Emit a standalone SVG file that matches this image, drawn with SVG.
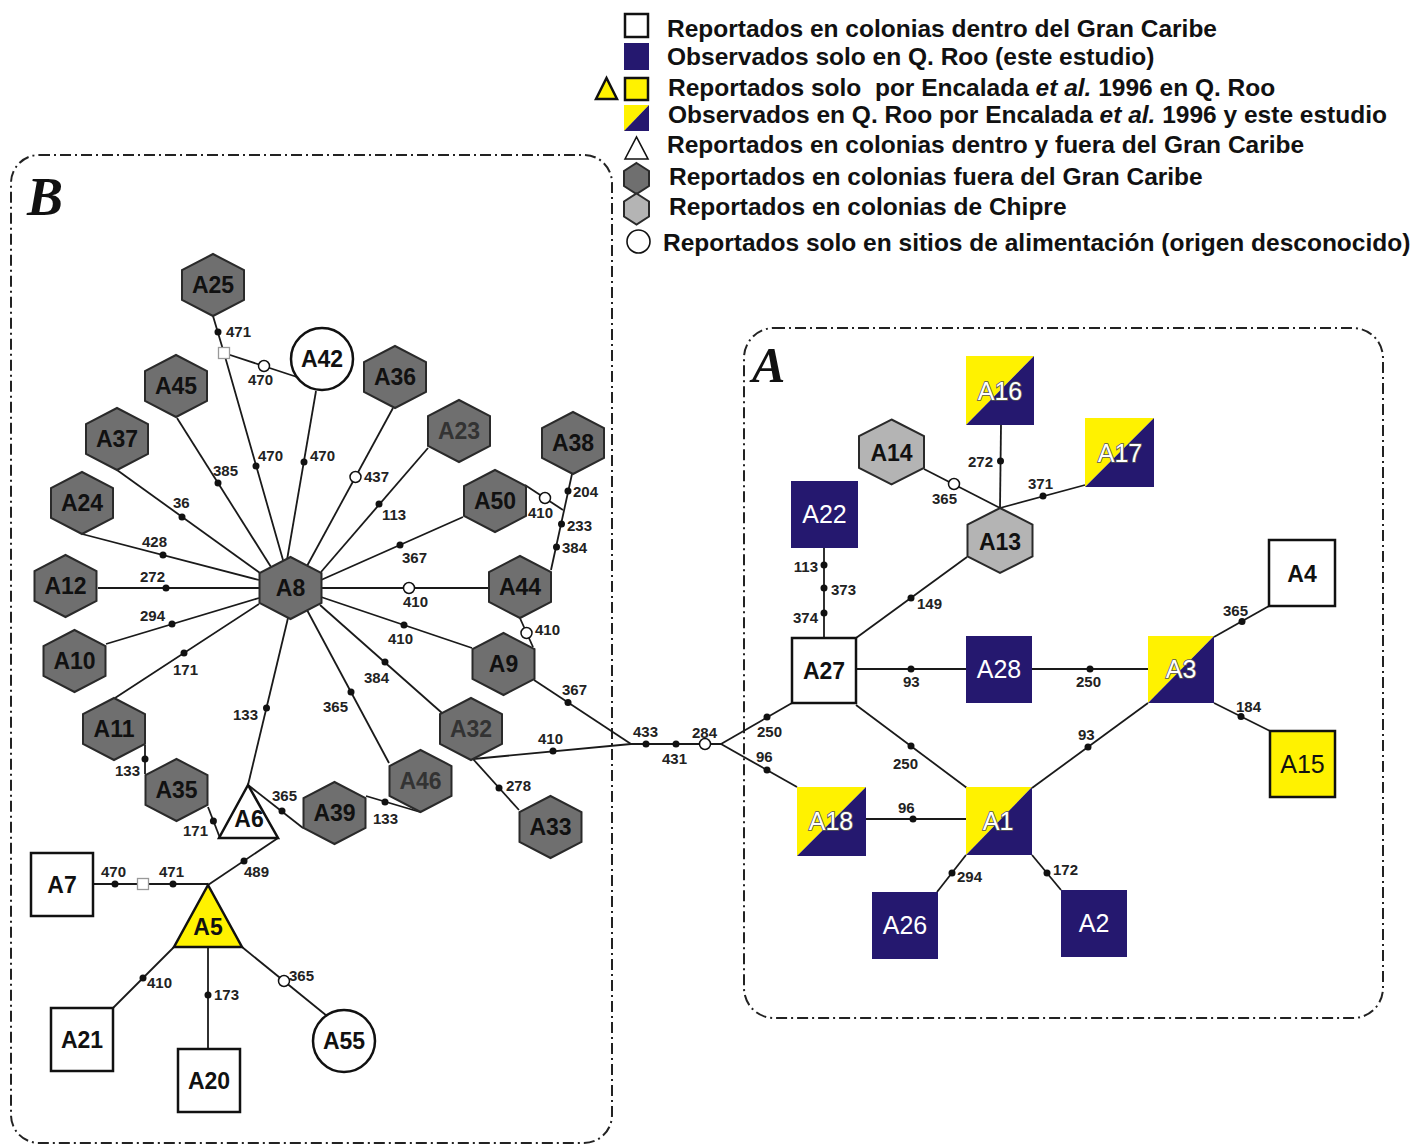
<svg xmlns="http://www.w3.org/2000/svg" xmlns:xlink="http://www.w3.org/1999/xlink" width="1414" height="1147" viewBox="0 0 1414 1147">
<style>
.ln{stroke:#1a1a1a;stroke-width:1.8;fill:none}
.dt{fill:#111}
.oc{fill:#fff;stroke:#111;stroke-width:1.5}
.ss{fill:#fff;stroke:#999;stroke-width:1.3}
.lb{font-family:"Liberation Sans",Arial,sans-serif;font-weight:bold;font-size:15px;fill:#222}
.lbe{font-family:"Liberation Sans",Arial,sans-serif;font-weight:bold;font-size:15px;fill:#222;text-anchor:end}
.nl{font-family:"Liberation Sans",Arial,sans-serif;font-weight:bold;font-size:23px;text-anchor:middle;fill:#111}
.ng{font-family:"Liberation Sans",Arial,sans-serif;font-weight:bold;font-size:23px;text-anchor:middle;fill:#333}
.nw{font-family:"Liberation Sans",Arial,sans-serif;font-size:25px;text-anchor:middle;fill:#fff}
.no{font-family:"Liberation Sans",Arial,sans-serif;font-size:25px;text-anchor:middle;fill:#fff;stroke:#555;stroke-width:1.6;paint-order:stroke}
.nk{font-family:"Liberation Sans",Arial,sans-serif;font-size:25px;text-anchor:middle;fill:#111}
.hd{fill:#6f6f6f;stroke:#2a2a2a;stroke-width:2}
.hl{fill:#b4b4b4;stroke:#2a2a2a;stroke-width:2}
.sq{fill:#fff;stroke:#111;stroke-width:2.5}
.nv{fill:#25186f}
.ye{fill:#fff200}
.yes{fill:#fff200;stroke:#111;stroke-width:2.5}
.ci{fill:#fff;stroke:#111;stroke-width:2.5}
.box{fill:none;stroke:#222;stroke-width:2;stroke-dasharray:11 4 2 4}
.lg{font-family:"Liberation Sans",Arial,sans-serif;font-weight:bold;font-size:24.5px;fill:#111}
.big{font-family:"Liberation Serif","Times New Roman",serif;font-weight:bold;font-style:italic;fill:#111}
</style>
<defs>
<polygon id="hx" points="0,-31 31,-15 31,15 0,31 -31,15 -31,-15"/>
<polygon id="hxa" points="0,-32.5 32.5,-16 32.5,16 0,32.5 -32.5,16 -32.5,-16"/>
<polygon id="hxl" points="0,-15.5 12.5,-7.5 12.5,7.5 0,15.5 -12.5,7.5 -12.5,-7.5"/>
</defs>
<rect width="1414" height="1147" fill="#fff"/>

<g id="frames">
<rect class="box" x="11" y="155" width="601" height="988" rx="28"/>
<rect class="box" x="744" y="328" width="639" height="690" rx="30"/>
<text class="big" x="27" y="215" font-size="54">B</text>
<text class="big" x="752" y="382" font-size="50">A</text>
</g>

<g id="legend">
<rect class="sq" x="625" y="14" width="23" height="23" stroke-width="2"/>
<text class="lg" x="667" y="37">Reportados en colonias dentro del Gran Caribe</text>
<rect class="nv" x="624" y="43" width="25" height="27"/>
<text class="lg" x="667" y="65">Observados solo en Q. Roo (este estudio)</text>
<polygon class="yes" points="596,99 606.5,78 617,99" stroke-width="1.5"/>
<rect class="yes" x="625" y="78" width="23" height="22" stroke-width="2"/>
<text class="lg" x="668" y="96" xml:space="preserve">Reportados solo  por Encalada <tspan font-style="italic">et al.</tspan> 1996 en Q. Roo</text>
<polygon class="ye" points="624,105 649,105 624,131"/>
<polygon class="nv" points="649,105 649,131 624,131"/>
<text class="lg" x="668" y="123">Observados en Q. Roo por Encalada <tspan font-style="italic">et al.</tspan> 1996 y este estudio</text>
<polygon fill="#fff" stroke="#111" stroke-width="1.6" points="625,159 636.5,137 648,159"/>
<text class="lg" x="667" y="153">Reportados en colonias dentro y fuera del Gran Caribe</text>
<use xlink:href="#hxl" href="#hxl" x="636.5" y="178.5" class="hd" stroke-width="1.5"/>
<text class="lg" x="669" y="185">Reportados en colonias fuera del Gran Caribe</text>
<use xlink:href="#hxl" href="#hxl" x="636.5" y="209" class="hl" stroke-width="1.5"/>
<text class="lg" x="669" y="215">Reportados en colonias de Chipre</text>
<circle cx="638.5" cy="241.5" r="11.5" fill="#fff" stroke="#111" stroke-width="1.6"/>
<text class="lg" x="663" y="251">Reportados solo en sitios de alimentación (origen desconocido)</text>
</g>

<g id="connectors">
<path class="ln" d="M213,316 L224,353 L283,560"/>
<path class="ln" d="M224,353 L297,377"/>
<path class="ln" d="M316,391 L287,560"/>
<path class="ln" d="M393,408 L307,566"/>
<path class="ln" d="M428,448 L321,572"/>
<path class="ln" d="M463,517 L321,580"/>
<path class="ln" d="M525,485 L563,510"/>
<path class="ln" d="M572,474 L551,570"/>
<path class="ln" d="M322,588 L488,588"/>
<path class="ln" d="M519,616 L533,647"/>
<path class="ln" d="M321,597 L472,648"/>
<path class="ln" d="M534,680 L631,744"/>
<path class="ln" d="M320,605 L442,713"/>
<path class="ln" d="M473,759 L631,744"/>
<path class="ln" d="M473,759 L519,810"/>
<path class="ln" d="M307,610 L389,763"/>
<path class="ln" d="M366,796 L420,812"/>
<path class="ln" d="M248,785 L303,828"/>
<path class="ln" d="M288,618 L248,785"/>
<path class="ln" d="M208,807 L220,838"/>
<path class="ln" d="M145,745 L145,774"/>
<path class="ln" d="M115,698 L259,604"/>
<path class="ln" d="M106,644 L259,598"/>
<path class="ln" d="M98,588 L259,588"/>
<path class="ln" d="M82,534 L259,580"/>
<path class="ln" d="M117,470 L260,573"/>
<path class="ln" d="M177,418 L271,567"/>
<path class="ln" d="M93,884 L208,884"/>
<path class="ln" d="M208,885 L278,838"/>
<path class="ln" d="M174,947 L113,1008"/>
<path class="ln" d="M208,947 L208,1049"/>
<path class="ln" d="M242,947 L327,1016"/>
<path class="ln" d="M631,744 L721,744"/>
<path class="ln" d="M721,744 L792,703"/>
<path class="ln" d="M721,744 L797,787"/>
<path class="ln" d="M824,548 L824,638"/>
<path class="ln" d="M856,638 L967,557"/>
<path class="ln" d="M924,469 L1000,508"/>
<path class="ln" d="M1001,425 L1000,508"/>
<path class="ln" d="M1085,485 L1000,508"/>
<path class="ln" d="M856,669 L966,669"/>
<path class="ln" d="M1032,669 L1148,669"/>
<path class="ln" d="M856,705 L967,788"/>
<path class="ln" d="M1148,703 L1032,788"/>
<path class="ln" d="M1214,637 L1269,606"/>
<path class="ln" d="M1214,703 L1270,731"/>
<path class="ln" d="M866,819 L966,819"/>
<path class="ln" d="M966,855 L937,892"/>
<path class="ln" d="M1032,855 L1061,890"/>

<g class="dt">
<circle cx="218" cy="332" r="3.5"/><circle cx="256" cy="466" r="3.5"/><circle cx="304" cy="462" r="3.5"/>
<circle cx="379" cy="504" r="3.5"/><circle cx="400" cy="545" r="3.5"/><circle cx="568" cy="491" r="3.5"/>
<circle cx="561.5" cy="524" r="3.5"/><circle cx="556.5" cy="547" r="3.5"/><circle cx="404" cy="625" r="3.5"/>
<circle cx="568" cy="702.5" r="3.5"/><circle cx="385" cy="662" r="3.5"/><circle cx="553" cy="751" r="3.5"/>
<circle cx="499" cy="788" r="3.5"/><circle cx="351" cy="692" r="3.5"/><circle cx="385" cy="802" r="3.5"/>
<circle cx="282" cy="811" r="3.5"/><circle cx="266.5" cy="708" r="3.5"/><circle cx="213.4" cy="821" r="3.5"/>
<circle cx="145" cy="759" r="3.5"/><circle cx="184" cy="653" r="3.5"/><circle cx="172" cy="624" r="3.5"/>
<circle cx="166" cy="588" r="3.5"/><circle cx="163" cy="555" r="3.5"/><circle cx="182" cy="517" r="3.5"/>
<circle cx="218" cy="483" r="3.5"/><circle cx="115" cy="884" r="3.5"/><circle cx="173" cy="884" r="3.5"/>
<circle cx="244" cy="861" r="3.5"/><circle cx="143" cy="978" r="3.5"/><circle cx="208" cy="995" r="3.5"/>
<circle cx="646" cy="744" r="3.5"/><circle cx="676" cy="744" r="3.5"/><circle cx="767" cy="717" r="3.5"/>
<circle cx="767" cy="770" r="3.5"/><circle cx="824" cy="565" r="3.5"/><circle cx="824" cy="588" r="3.5"/>
<circle cx="824" cy="613" r="3.5"/><circle cx="911" cy="598" r="3.5"/><circle cx="1000.5" cy="461" r="3.5"/>
<circle cx="1043" cy="496" r="3.5"/><circle cx="911" cy="669" r="3.5"/><circle cx="1090" cy="669" r="3.5"/>
<circle cx="911" cy="746" r="3.5"/><circle cx="1088" cy="747" r="3.5"/><circle cx="1242" cy="621.5" r="3.5"/>
<circle cx="1241" cy="716.5" r="3.5"/><circle cx="913" cy="819" r="3.5"/><circle cx="952" cy="873" r="3.5"/>
<circle cx="1047" cy="873" r="3.5"/>
</g>
<g class="oc">
<circle cx="264" cy="366" r="5.5"/><circle cx="355.5" cy="477" r="5.5"/><circle cx="545" cy="498" r="5.5"/>
<circle cx="409" cy="588" r="5.5"/><circle cx="526.5" cy="633" r="5.5"/><circle cx="705" cy="744" r="5.5"/>
<circle cx="284" cy="981" r="5.5"/><circle cx="954" cy="484" r="5.5"/>
</g>
<rect class="ss" x="218.5" y="347.5" width="11" height="11"/>
<rect class="ss" x="137.5" y="878.5" width="11" height="11"/>

<g id="edge-labels">
<text class="lb" x="226" y="337">471</text>
<text class="lb" x="248" y="385">470</text>
<text class="lb" x="258" y="461">470</text>
<text class="lb" x="310" y="461">470</text>
<text class="lb" x="364" y="482">437</text>
<text class="lb" x="382" y="520">113</text>
<text class="lb" x="213" y="476">385</text>
<text class="lb" x="173" y="508">36</text>
<text class="lb" x="142" y="547">428</text>
<text class="lb" x="140" y="582">272</text>
<text class="lb" x="140" y="621">294</text>
<text class="lb" x="173" y="675">171</text>
<text class="lb" x="402" y="563">367</text>
<text class="lb" x="528" y="518">410</text>
<text class="lb" x="573" y="497">204</text>
<text class="lb" x="567" y="531">233</text>
<text class="lb" x="562" y="553">384</text>
<text class="lb" x="403" y="607">410</text>
<text class="lb" x="535" y="635">410</text>
<text class="lb" x="388" y="644">410</text>
<text class="lb" x="562" y="695">367</text>
<text class="lb" x="364" y="683">384</text>
<text class="lb" x="323" y="712">365</text>
<text class="lb" x="233" y="720">133</text>
<text class="lb" x="538" y="744">410</text>
<text class="lb" x="506" y="791">278</text>
<text class="lb" x="373" y="824">133</text>
<text class="lb" x="272" y="801">365</text>
<text class="lb" x="183" y="836">171</text>
<text class="lb" x="115" y="776">133</text>
<text class="lb" x="101" y="877">470</text>
<text class="lb" x="159" y="877">471</text>
<text class="lb" x="244" y="877">489</text>
<text class="lb" x="147" y="988">410</text>
<text class="lb" x="214" y="1000">173</text>
<text class="lb" x="289" y="981">365</text>
<text class="lb" x="633" y="737">433</text>
<text class="lb" x="662" y="764">431</text>
<text class="lb" x="692" y="738">284</text>
<text class="lb" x="757" y="737">250</text>
<text class="lb" x="756" y="762">96</text>
<text class="lbe" x="818" y="572">113</text>
<text class="lb" x="831" y="595">373</text>
<text class="lbe" x="818" y="623">374</text>
<text class="lb" x="917" y="609">149</text>
<text class="lb" x="932" y="504">365</text>
<text class="lbe" x="993" y="467">272</text>
<text class="lb" x="1028" y="489">371</text>
<text class="lb" x="903" y="687">93</text>
<text class="lb" x="1076" y="687">250</text>
<text class="lb" x="893" y="769">250</text>
<text class="lb" x="1078" y="740">93</text>
<text class="lb" x="1223" y="616">365</text>
<text class="lb" x="1236" y="712">184</text>
<text class="lb" x="898" y="813">96</text>
<text class="lb" x="957" y="882">294</text>
<text class="lb" x="1053" y="875">172</text>
</g>
</g>

<g id="nodes">
<g id="A25"><use xlink:href="#hx" href="#hx" x="213" y="285" class="hd"/><text class="nl" x="213" y="293">A25</text></g>
<g id="A45"><use xlink:href="#hx" href="#hx" x="176" y="386" class="hd"/><text class="nl" x="176" y="394">A45</text></g>
<g id="A37"><use xlink:href="#hx" href="#hx" x="117" y="439" class="hd"/><text class="nl" x="117" y="447">A37</text></g>
<g id="A24"><use xlink:href="#hx" href="#hx" x="82" y="503" class="hd"/><text class="nl" x="82" y="511">A24</text></g>
<g id="A12"><use xlink:href="#hx" href="#hx" x="65.5" y="586" class="hd"/><text class="nl" x="65.5" y="594">A12</text></g>
<g id="A10"><use xlink:href="#hx" href="#hx" x="74.5" y="661" class="hd"/><text class="nl" x="74.5" y="669">A10</text></g>
<g id="A11"><use xlink:href="#hx" href="#hx" x="114" y="729" class="hd"/><text class="nl" x="114" y="737">A11</text></g>
<g id="A35"><use xlink:href="#hx" href="#hx" x="176.5" y="790" class="hd"/><text class="nl" x="176.5" y="798">A35</text></g>
<g id="A8"><use xlink:href="#hx" href="#hx" x="290.5" y="588" class="hd"/><text class="nl" x="290.5" y="596">A8</text></g>
<g id="A36"><use xlink:href="#hx" href="#hx" x="395" y="377" class="hd"/><text class="nl" x="395" y="385">A36</text></g>
<g id="A23"><use xlink:href="#hx" href="#hx" x="459" y="431" class="hd"/><text class="ng" x="459" y="439">A23</text></g>
<g id="A38"><use xlink:href="#hx" href="#hx" x="573" y="443" class="hd"/><text class="nl" x="573" y="451">A38</text></g>
<g id="A50"><use xlink:href="#hx" href="#hx" x="495" y="501" class="hd"/><text class="nl" x="495" y="509">A50</text></g>
<g id="A44"><use xlink:href="#hx" href="#hx" x="520" y="587" class="hd"/><text class="nl" x="520" y="595">A44</text></g>
<g id="A9"><use xlink:href="#hx" href="#hx" x="503.5" y="664" class="hd"/><text class="nl" x="503.5" y="672">A9</text></g>
<g id="A32"><use xlink:href="#hx" href="#hx" x="471" y="729" class="hd"/><text class="ng" x="471" y="737">A32</text></g>
<g id="A46"><use xlink:href="#hx" href="#hx" x="420.5" y="781" class="hd"/><text class="ng" x="420.5" y="789">A46</text></g>
<g id="A33"><use xlink:href="#hx" href="#hx" x="550.5" y="827" class="hd"/><text class="nl" x="550.5" y="835">A33</text></g>
<g id="A39"><use xlink:href="#hx" href="#hx" x="334.5" y="813" class="hd"/><text class="nl" x="334.5" y="821">A39</text></g>
<g id="A42"><circle class="ci" cx="322" cy="359" r="31"/><text class="nl" x="322" y="367">A42</text></g>
<g id="A55"><circle class="ci" cx="344" cy="1041" r="31"/><text class="nl" x="344" y="1049">A55</text></g>
<g id="A6"><polygon class="ci" points="248,785 278,838 219,838"/><text class="nl" x="249" y="827" font-size="21">A6</text></g>
<g id="A5"><polygon class="yes" points="208,885 242,947 174,947"/><text class="nl" x="208" y="935">A5</text></g>
<g id="A7"><rect class="sq" x="31" y="853" width="62" height="63"/><text class="nl" x="62" y="893">A7</text></g>
<g id="A21"><rect class="sq" x="51" y="1008" width="62" height="63"/><text class="nl" x="82" y="1048">A21</text></g>
<g id="A20"><rect class="sq" x="178" y="1049" width="62" height="63"/><text class="nl" x="209" y="1089">A20</text></g>

<g id="A16"><polygon class="ye" points="966,356 1034,356 966,425"/><polygon class="nv" points="1034,356 1034,425 966,425"/><text class="no" x="1000" y="400">A16</text></g>
<g id="A17"><polygon class="ye" points="1085,418 1154,418 1085,487"/><polygon class="nv" points="1154,418 1154,487 1085,487"/><text class="no" x="1120" y="462">A17</text></g>
<g id="A14"><use xlink:href="#hxa" href="#hxa" x="891.5" y="452" class="hl"/><text class="nl" x="891.5" y="461" font-size="24">A14</text></g>
<g id="A13"><use xlink:href="#hxa" href="#hxa" x="1000" y="540.5" class="hl"/><text class="nl" x="1000" y="549.5" font-size="24">A13</text></g>
<g id="A22"><rect class="nv" x="791" y="481" width="67" height="67"/><text class="nw" x="824.5" y="523">A22</text></g>
<g id="A27"><rect class="sq" x="792" y="638" width="64" height="65"/><text class="nl" x="824" y="679" font-size="24">A27</text></g>
<g id="A28"><rect class="nv" x="966" y="636" width="66" height="67"/><text class="nw" x="999" y="678">A28</text></g>
<g id="A3"><polygon class="ye" points="1148,636 1214,636 1148,703"/><polygon class="nv" points="1214,636 1214,703 1148,703"/><text class="no" x="1181" y="678">A3</text></g>
<g id="A4"><rect class="sq" x="1269" y="540" width="66" height="66"/><text class="nl" x="1302" y="582" font-size="24">A4</text></g>
<g id="A15"><rect class="yes" x="1270" y="731" width="65" height="66"/><text class="nk" x="1302.5" y="773">A15</text></g>
<g id="A18"><polygon class="ye" points="797,787 866,787 797,856"/><polygon class="nv" points="866,787 866,856 797,856"/><text class="no" x="831" y="830">A18</text></g>
<g id="A1"><polygon class="ye" points="966,787 1032,787 966,855"/><polygon class="nv" points="1032,787 1032,855 966,855"/><text class="no" x="998" y="830">A1</text></g>
<g id="A26"><rect class="nv" x="872" y="892" width="66" height="67"/><text class="nw" x="905" y="934">A26</text></g>
<g id="A2"><rect class="nv" x="1061" y="890" width="66" height="67"/><text class="nw" x="1094" y="932">A2</text></g>
</g>
</svg>
